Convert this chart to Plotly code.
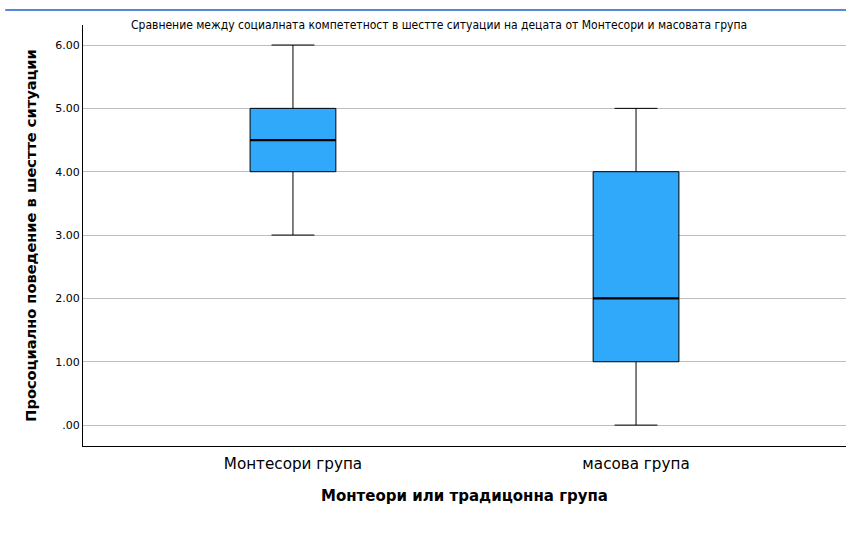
import plotly.graph_objects as go

categories = ["Монтесори група", "масова група"]
mins = [3.0, 0.0]
q1s = [4.0, 1.0]
medians = [4.5, 2.0]
q3s = [5.0, 4.0]
maxs = [6.0, 5.0]
y_ticks = [0, 1, 2, 3, 4, 5, 6]
y_tick_labels = [".00", "1.00", "2.00", "3.00", "4.00", "5.00", "6.00"]

title_text = "Сравнение между социалната компететност в шестте ситуации на децата от Монтесори и масовата група"
x_title = "Монтеори или традицонна група"
y_title = "Просоциално поведение в шестте ситуации"

BOX_W = 0.25
xs = list(range(len(categories)))

fig = go.Figure()
fig.add_trace(go.Box(
    x=xs, q1=q1s, median=medians, q3=q3s, lowerfence=mins, upperfence=maxs,
    width=BOX_W, whiskerwidth=0.5,
    fillcolor="#30a9fb", line=dict(color="#000000", width=1),
    boxpoints=False, showlegend=False, hoverinfo="skip",
))
# thicker median lines
for i, m in zip(xs, medians):
    fig.add_trace(go.Scatter(
        x=[i - BOX_W / 2, i + BOX_W / 2], y=[m, m], mode="lines",
        line=dict(color="#000000", width=2.2), showlegend=False, hoverinfo="skip",
    ))

fig.update_layout(
    width=846, height=550,
    margin=dict(l=83, r=0, t=25, b=104),
    paper_bgcolor="white", plot_bgcolor="white",
    font=dict(family="DejaVu Sans", color="#000000"),
    xaxis=dict(
        range=[-0.612, 1.612], tickvals=xs, ticktext=categories,
        showgrid=False, zeroline=False, showline=True, linecolor="#000000", linewidth=1.2,
        tickfont=dict(size=15.2, family="DejaVu Sans"), ticks="", ticklabelstandoff=4,
        title=dict(text="<b>" + x_title + "</b>", font=dict(size=15, family="DejaVu Sans"), standoff=18),
        fixedrange=True,
    ),
    yaxis=dict(
        range=[-0.33, 6.316], tickvals=y_ticks, ticktext=y_tick_labels,
        showgrid=True, gridcolor="#bdbdbd", gridwidth=1, zeroline=False,
        showline=True, linecolor="#000000", linewidth=1.2, ticks="",
        tickfont=dict(size=11, family="DejaVu Sans"),
        title=dict(text="<b>" + y_title + "</b>", font=dict(size=14.6, family="DejaVu Sans"), standoff=15),
        fixedrange=True,
    ),
    annotations=[dict(
        text=title_text, xref="paper", yref="paper", x=0.466, y=1.0,
        xanchor="center", yanchor="middle", showarrow=False,
        font=dict(size=12, family="Liberation Sans Narrow, DejaVu Sans Condensed, sans-serif"),
    )],
    shapes=[dict(
        type="line", xref="paper", yref="paper", x0=-0.102, x1=1.0, y0=1.0356, y1=1.0356,
        line=dict(color="#1f5fcc", width=1.5),
    )],
)

fig.write_html("out.html")
